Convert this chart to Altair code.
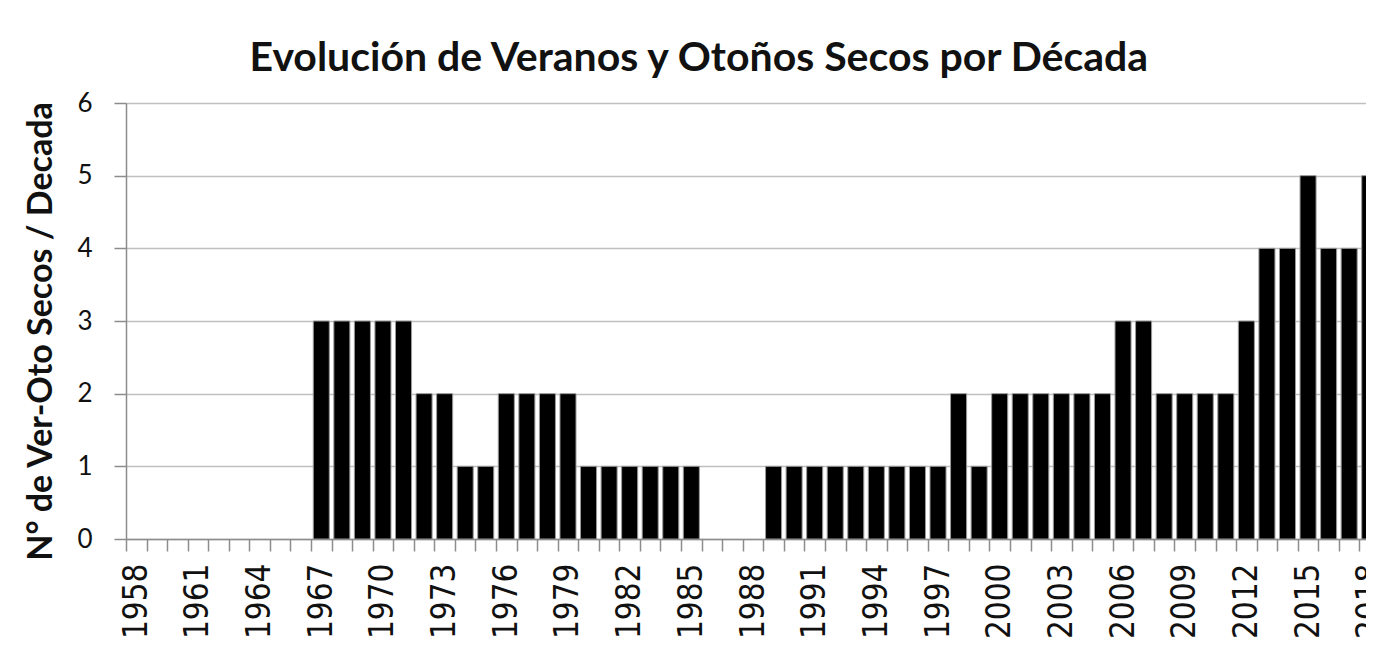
import altair as alt
import pandas as pd

years = list(range(1958, 2019))
values = [0, 0, 0, 0, 0, 0, 0, 0, 0,
          3, 3, 3, 3, 3,
          2, 2,
          1, 1,
          2, 2, 2, 2,
          1, 1, 1, 1, 1, 1,
          0, 0, 0,
          1, 1, 1, 1, 1, 1, 1, 1, 1,
          2,
          1,
          2, 2, 2, 2, 2, 2,
          3, 3,
          2, 2, 2, 2,
          3,
          4, 4,
          5,
          4, 4,
          5]

label_years = years[::3]
title_text = "Evolución de Veranos y Otoños Secos por Década"
y_title = "N° de Ver-Oto Secos / Decada"

df = pd.DataFrame({"year": years, "value": values})
df = df[df["value"] > 0]

tick_vals = [y - 0.5 for y in years] + label_years
label_set = ",".join(str(v) for v in label_years)

x_axis = alt.Axis(
    values=tick_vals,
    labelExpr="indexof([" + label_set + "], datum.value) >= 0 ? datum.value : ''",
    labelAngle=270,
    labelFont="DejaVu Sans Condensed",
    labelFontSize=33,
    labelColor="#111111",
    labelPadding=12,
    labelOverlap=False,
    labelFlush=False,
    labelBound=False,
    tickSize=12,
    tickColor="#8c8c8c",
    tickWidth=1.5,
    tickOpacity={"condition": {"test": "datum.value % 1 != 0", "value": 1}, "value": 0},
    domainColor="#8c8c8c",
    domainWidth=1.5,
    grid=False,
    title=None,
)

y_axis = alt.Axis(
    values=[0, 1, 2, 3, 4, 5, 6],
    labelFont="Lato",
    labelFontSize=26,
    labelColor="#111111",
    labelPadding=22,
    tickSize=12,
    tickColor="#8c8c8c",
    tickWidth=1.5,
    domainColor="#8c8c8c",
    domainWidth=1.5,
    gridColor="#c0c0c0",
    gridWidth=1.5,
    title=y_title,
    titleFont="Lato",
    titleFontSize=34,
    titleFontWeight="bold",
    titleColor="#111111",
    titlePadding=18,
    titleY=228,
)

chart = (
    alt.Chart(df)
    .transform_calculate(x0="datum.year - 0.39", x1="datum.year + 0.39")
    .mark_bar(color="#000000", stroke="#9a9a9a", strokeWidth=1, clip=True)
    .encode(
        x=alt.X("x0:Q", scale=alt.Scale(domain=[1957.5, 2018.5], nice=False, zero=False), axis=x_axis),
        x2="x1:Q",
        y=alt.Y("value:Q", scale=alt.Scale(domain=[0, 6], nice=False), axis=y_axis),
        y2=alt.datum(0),
    )
    .properties(
        width=1254,
        height=436,
        autosize=alt.AutoSizeParams(type="none"),
        padding={"left": 118, "top": 95, "right": -14, "bottom": 110},
        title=alt.TitleParams(
            text=title_text,
            font="Lato",
            fontSize=41,
            fontWeight="bold",
            color="#111111",
            anchor="middle",
            frame="bounds",
            offset=10,
            dx=-7,
        ),
    )
    .configure_view(stroke=None)
    .configure(background="white")
)

chart.save("out.html", embed_options={"renderer": "svg", "actions": False})
